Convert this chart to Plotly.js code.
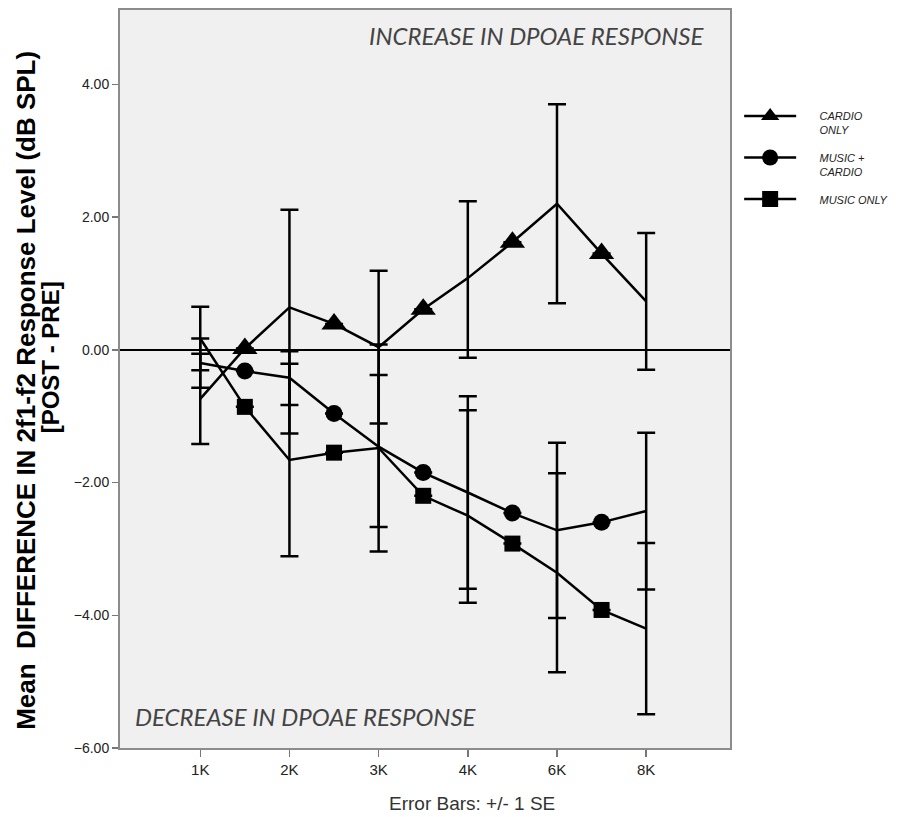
<!DOCTYPE html>
<html>
<head>
<meta charset="utf-8">
<script src="https://cdn.plot.ly/plotly-3.0.1.min.js"></script>
<style>html,body{margin:0;padding:0;background:#fff;}#chart{width:919px;height:817px;}</style>
</head>
<body>
<div id="chart"></div>
<script>
// Positions along the frequency axis (labelled points and the in-between marker points)
const xPos = [0, 0.5, 1, 1.5, 2, 2.5, 3, 3.5, 4, 4.5, 5];
const tickPos = [0, 1, 2, 3, 4, 5];
const tickLabels = ["1K", "2K", "3K", "4K", "6K", "8K"];

const seriesNames = [["CARDIO", "ONLY"], ["MUSIC +", "CARDIO"], ["MUSIC ONLY"]];

// Mean difference values
const cardioY = [-0.74, 0.02, 0.64, 0.39, 0.04, 0.61, 1.08, 1.62, 2.2, 1.45, 0.73];
const musicCardioY = [-0.2, -0.32, -0.42, -0.96, -1.46, -1.85, -2.15, -2.46, -2.72, -2.6, -2.43];
const musicOnlyY = [0.17, -0.86, -1.66, -1.55, -1.48, -2.2, -2.5, -2.92, -3.36, -3.92, -4.2];

// +/- 1 SE (only at labelled frequencies; null = no bar)
const cardioErrPlus  = [0.68, null, 1.47, null, 1.15, null, 1.16, null, 1.5, null, 1.03];
const cardioErrMinus = [0.68, null, 1.47, null, 1.15, null, 1.2, null, 1.5, null, 1.03];
const mcErrPlus  = [0.37, null, 0.40, null, 1.08, null, 1.45, null, 1.32, null, 1.18];
const mcErrMinus = [0.37, null, 0.84, null, 1.21, null, 1.45, null, 1.32, null, 1.18];
const moErrPlus  = [0.48, null, 1.45, null, 1.56, null, 1.59, null, 1.5, null, 1.29];
const moErrMinus = [0.48, null, 1.45, null, 1.56, null, 1.31, null, 1.5, null, 1.29];

const symbols = ["triangle-up", "circle", "square"];
const symSizes = [22, 17, 16];

function markerSizes(s) { return xPos.map((x, i) => (i % 2 === 1 ? s : 0)); }

const ys = [cardioY, musicCardioY, musicOnlyY];
const eps = [cardioErrPlus, mcErrPlus, moErrPlus];
const ems = [cardioErrMinus, mcErrMinus, moErrMinus];

const pad = "&nbsp;&nbsp;&nbsp;&nbsp;&nbsp;&nbsp;";
function legendName(lines) { return "<i>" + lines.map(l => pad + l).join("<br>") + "</i>"; }

const traces = [];
for (let k = 0; k < 3; k++) {
  traces.push({
    type: "scatter", mode: "lines+markers", x: xPos, y: ys[k],
    line: {color: "#000", width: 2.5},
    marker: {symbol: symbols[k], size: markerSizes(symSizes[k]), color: "#000", opacity: 1, line: {width: 0}},
    error_y: {type: "data", symmetric: false, array: eps[k], arrayminus: ems[k],
              color: "#000", thickness: 2.5, width: 9},
    showlegend: false, hoverinfo: "skip"
  });
}
for (let k = 0; k < 3; k++) {
  traces.push({
    type: "scatter", mode: "lines+markers", x: [null], y: [null], name: legendName(seriesNames[k]),
    legendgroup: "g" + k,
    line: {color: "#000", width: 2.5},
    marker: {symbol: symbols[k], size: 16, color: "#000", opacity: 1},
    showlegend: true
  });
}

const layout = {
  width: 919, height: 817,
  margin: {l: 120, r: 189, t: 10, b: 69},
  paper_bgcolor: "#fff", plot_bgcolor: "#f0f0f0",
  font: {family: "Liberation Sans, Arial, sans-serif", color: "#222"},
  xaxis: {
    range: [-0.9, 5.94], tickvals: tickPos, ticktext: tickLabels,
    showgrid: false, zeroline: false,
    showline: true, mirror: true, linecolor: "#8c8c8c", linewidth: 2,
    ticks: "outside", ticklen: 7, tickcolor: "#777", tickwidth: 1.5,
    tickfont: {size: 15, color: "#222"}
  },
  yaxis: {
    range: [-6, 5.12], tickvals: [-6, -4, -2, 0, 2, 4], tickformat: ".2f",
    showgrid: false, zeroline: true, zerolinecolor: "#000", zerolinewidth: 1.5,
    showline: true, mirror: true, linecolor: "#8c8c8c", linewidth: 2,
    ticks: "outside", ticklen: 6, tickcolor: "#777", tickwidth: 1.5,
    tickfont: {size: 14, color: "#222"}
  },
  legend: {
    x: 1.015, y: 0.875, xanchor: "left", yanchor: "top",
    valign: "top", bgcolor: "rgba(0,0,0,0)", itemwidth: 52, tracegroupgap: 10,
    font: {size: 11, color: "#222", family: "Liberation Sans, Arial, sans-serif"},
    itemclick: false
  },
  annotations: [
    {xref: "paper", yref: "paper", x: 0.962, y: 0.965, xanchor: "right", yanchor: "middle",
     text: "<i>INCREASE IN DPOAE RESPONSE</i>", showarrow: false,
     font: {family: "Lato, Open Sans, sans-serif", size: 24, color: "#444"}},
    {xref: "paper", yref: "paper", x: 0.022, y: 0.043, xanchor: "left", yanchor: "middle",
     text: "<i>DECREASE IN DPOAE RESPONSE</i>", showarrow: false,
     font: {family: "Lato, Open Sans, sans-serif", size: 24, color: "#444"}},
    {xref: "paper", yref: "paper", x: 0.577, y: -0.0755, xanchor: "center", yanchor: "middle",
     text: "Error Bars: +/- 1 SE", showarrow: false,
     font: {size: 19, color: "#333"}},
    {xref: "paper", yref: "paper", x: -0.154, y: 0.484, xanchor: "center", yanchor: "middle",
     textangle: -90, text: "<b>Mean  DIFFERENCE IN 2f1-f2 Response Level (dB SPL)</b>", showarrow: false,
     font: {size: 26, color: "#000"}},
    {xref: "paper", yref: "paper", x: -0.114, y: 0.53, xanchor: "center", yanchor: "middle",
     textangle: -90, text: "<b>[POST - PRE]</b>", showarrow: false,
     font: {size: 24, color: "#000"}}
  ]
};

Plotly.newPlot("chart", traces, layout, {displayModeBar: false, staticPlot: true});
</script>
</body>
</html>
